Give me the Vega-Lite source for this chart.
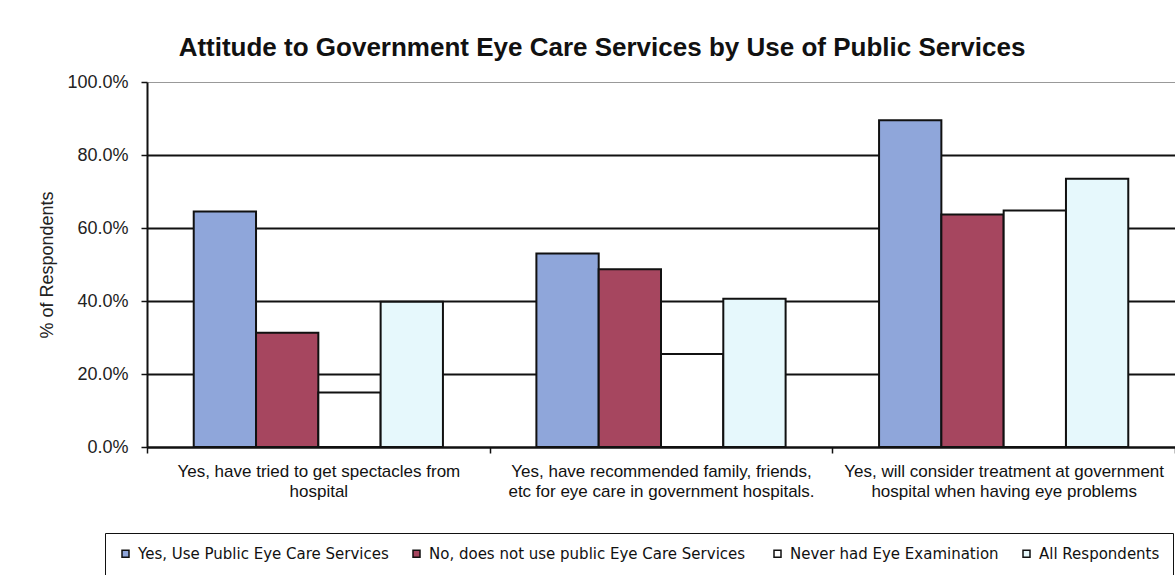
{
  "$schema": "https://vega.github.io/schema/vega-lite/v6.json",
  "width": 1028,
  "height": 365,
  "autosize": {"type": "none"},
  "padding": {"left": 147, "top": 82, "right": 0, "bottom": 128},
  "background": "white",
  "title": {
    "text": "Attitude to Government Eye Care Services by Use of Public Services",
    "font": "Liberation Sans",
    "fontSize": 26,
    "fontWeight": "bold",
    "color": "#111",
    "anchor": "middle",
    "dx": -59,
    "offset": 12
  },
  "data": {
    "values": [
      {"q": "Yes, have tried to get spectacles from|hospital", "g": "Yes, Use Public Eye Care Services", "v": 0.645},
      {"q": "Yes, have tried to get spectacles from|hospital", "g": "No, does not use public  Eye Care Services", "v": 0.313},
      {"q": "Yes, have tried to get spectacles from|hospital", "g": "Never had Eye Examination", "v": 0.149},
      {"q": "Yes, have tried to get spectacles from|hospital", "g": "All Respondents", "v": 0.398},
      {"q": "Yes, have recommended  family, friends,|etc for eye care in government hospitals.", "g": "Yes, Use Public Eye Care Services", "v": 0.53},
      {"q": "Yes, have recommended  family, friends,|etc for eye care in government hospitals.", "g": "No, does not use public  Eye Care Services", "v": 0.487},
      {"q": "Yes, have recommended  family, friends,|etc for eye care in government hospitals.", "g": "Never had Eye Examination", "v": 0.255},
      {"q": "Yes, have recommended  family, friends,|etc for eye care in government hospitals.", "g": "All Respondents", "v": 0.406},
      {"q": "Yes, will consider treatment at government|hospital when having eye problems", "g": "Yes, Use Public Eye Care Services", "v": 0.895},
      {"q": "Yes, will consider treatment at government|hospital when having eye problems", "g": "No, does not use public  Eye Care Services", "v": 0.637},
      {"q": "Yes, will consider treatment at government|hospital when having eye problems", "g": "Never had Eye Examination", "v": 0.648},
      {"q": "Yes, will consider treatment at government|hospital when having eye problems", "g": "All Respondents", "v": 0.735}
    ]
  },
  "mark": {"type": "bar", "stroke": "#111", "strokeWidth": 2},
  "encoding": {
    "x": {
      "field": "q",
      "type": "nominal",
      "sort": null,
      "scale": {"paddingInner": 0, "paddingOuter": 0},
      "axis": {
        "title": null,
        "labelAngle": 0,
        "labelExpr": "split(datum.label, '|')",
        "labelFont": "Liberation Sans",
        "labelFontSize": 17,
        "labelColor": "#111",
        "labelLineHeight": 20,
        "labelPadding": 10,
        "labelLimit": 500,
        "tickBand": "extent",
        "tickSize": 6,
        "tickColor": "#111",
        "tickWidth": 1.5,
        "domainColor": "#111",
        "domainWidth": 2,
        "grid": false
      }
    },
    "xOffset": {
      "field": "g",
      "type": "nominal",
      "sort": null,
      "scale": {"paddingInner": 0, "paddingOuter": 0.75}
    },
    "y": {
      "field": "v",
      "type": "quantitative",
      "scale": {"domain": [0, 1], "nice": false},
      "axis": {
        "title": "% of Respondents",
        "titleFont": "Liberation Sans",
        "titleFontSize": 18,
        "titleFontWeight": "normal",
        "titleColor": "#222",
        "titlePadding": 10,
        "format": ".1%",
        "values": [0, 0.2, 0.4, 0.6, 0.8, 1],
        "labelFont": "Liberation Sans",
        "labelFontSize": 18,
        "labelColor": "#222",
        "labelPadding": 13,
        "tickSize": 6,
        "tickColor": "#111",
        "tickWidth": 1.5,
        "domainColor": "#111",
        "domainWidth": 2,
        "grid": true,
        "gridColor": {"condition": {"test": "datum.value === 1", "value": "#999"}, "value": "#111"},
        "gridWidth": {"condition": {"test": "datum.value === 1", "value": 1}, "value": 2}
      }
    },
    "color": {
      "field": "g",
      "type": "nominal",
      "sort": null,
      "scale": {
        "domain": ["Yes, Use Public Eye Care Services", "No, does not use public  Eye Care Services", "Never had Eye Examination", "All Respondents"],
        "range": ["#8FA6DA", "#A6465F", "#FFFFFF", "#E6F8FC"]
      },
      "legend": {
        "title": null,
        "orient": "none",
        "legendX": -42,
        "legendY": 451,
        "direction": "horizontal",
        "columns": 4,
        "columnPadding": 20,
        "padding": 13,
        "strokeColor": "#111",
        "fillColor": "white",
        "symbolType": "square",
        "symbolSize": 49,
        "symbolStrokeColor": "#111",
        "symbolStrokeWidth": 1.5,
        "labelFont": "DejaVu Sans",
        "labelFontSize": 15,
        "labelColor": "#111",
        "labelLimit": 500,
        "labelOffset": 5
      }
    }
  },
  "config": {
    "view": {"stroke": null}
  }
}
